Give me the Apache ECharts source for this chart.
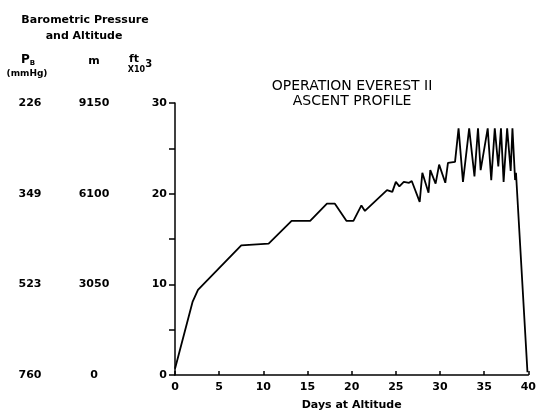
<!DOCTYPE html>
<html>
<head>
<meta charset="utf-8">
<script src="https://cdn.jsdelivr.net/npm/echarts@6/dist/echarts.min.js"></script>
<style>
  html, body { margin: 0; padding: 0; background: #fff; }
  #chart { width: 539px; height: 416px; }
</style>
</head>
<body>
<div id="chart"></div>
<script>
// Ascent profile: days spent at altitude vs. simulated altitude (thousands of feet)
const days = [
  0, 2.0, 2.6, 7.5, 10.6, 13.2, 15.3, 17.2, 18.1, 19.4, 20.2, 21.1, 21.5,
  24.0, 24.6, 25.0, 25.4, 25.9, 26.5, 26.8, 27.0, 27.7, 28.0, 28.7, 28.9,
  29.5, 29.9, 30.6, 30.9, 31.7, 32.1, 32.6, 33.3, 33.9, 34.3, 34.6, 35.4,
  35.8, 36.2, 36.6, 36.9, 37.2, 37.6, 38.0, 38.2, 38.5, 38.6, 39.9
];
const altitudeKft = [
  0.7, 8.1, 9.4, 14.3, 14.5, 17.0, 17.0, 18.9, 18.9, 17.0, 17.0, 18.7, 18.1,
  20.4, 20.2, 21.3, 20.8, 21.3, 21.2, 21.4, 21.2, 19.1, 22.3, 20.1, 22.6,
  21.1, 23.2, 21.2, 23.4, 23.5, 27.2, 21.3, 27.2, 21.9, 27.2, 22.6, 27.2,
  21.5, 27.2, 23.0, 27.2, 21.3, 27.2, 22.5, 27.2, 21.5, 22.3, 0.3
];

// Left-hand scale columns (bottom to top)
const ftTicks = [0, 10, 20, 30];
const meterLabels = ['0', '3050', '6100', '9150'];
const pressureLabels = ['760', '523', '349', '226'];

const FONT = 'DejaVu Sans';
const chart = echarts.init(document.getElementById('chart'));

const colLabel = (labels) => (v) => {
  const i = ftTicks.indexOf(v);
  return i >= 0 ? labels[i] : '';
};

chart.setOption({
  animation: false,
  backgroundColor: '#fff',
  grid: { left: 175, right: 6, top: 103, bottom: 40, containLabel: false },
  xAxis: {
    type: 'value', min: 0, max: 40, interval: 5,
    name: 'Days at Altitude', nameLocation: 'middle', nameGap: 25,
    nameTextStyle: { fontFamily: FONT, fontSize: 11, fontWeight: 'bold', color: '#000' },
    axisLine: { lineStyle: { color: '#000', width: 1.5 } },
    axisTick: { inside: true, length: 4, lineStyle: { color: '#000', width: 1.5 } },
    axisLabel: { fontFamily: FONT, fontSize: 11, fontWeight: 'bold', color: '#000', margin: 7 },
    splitLine: { show: false }
  },
  yAxis: [
    {
      type: 'value', min: 0, max: 30, interval: 5, position: 'left',
      axisLine: { show: true, lineStyle: { color: '#000', width: 1.5 } },
      axisTick: { inside: false, length: 6, lineStyle: { color: '#000', width: 1.5 } },
      axisLabel: {
        fontFamily: FONT, fontSize: 11, fontWeight: 'bold', color: '#000', margin: 8,
        formatter: (v) => (ftTicks.indexOf(v) >= 0 ? String(v) : '')
      },
      splitLine: { show: false }
    },
    {
      type: 'value', min: 0, max: 30, interval: 10, position: 'left',
      axisLine: { show: false }, axisTick: { show: false }, splitLine: { show: false },
      axisLabel: {
        fontFamily: FONT, fontSize: 11, fontWeight: 'bold', color: '#000',
        align: 'center', margin: 81, formatter: colLabel(meterLabels)
      }
    },
    {
      type: 'value', min: 0, max: 30, interval: 10, position: 'left',
      axisLine: { show: false }, axisTick: { show: false }, splitLine: { show: false },
      axisLabel: {
        fontFamily: FONT, fontSize: 11, fontWeight: 'bold', color: '#000',
        align: 'center', margin: 145, formatter: colLabel(pressureLabels)
      }
    }
  ],
  series: [{
    type: 'line',
    yAxisIndex: 0,
    data: days.map((d, i) => [d, altitudeKft[i]]),
    showSymbol: false,
    lineStyle: { color: '#000', width: 1.8 },
    z: 3
  }],
  graphic: [
    {
      type: 'text', x: 85, y: 20,
      style: { text: 'Barometric Pressure', fontFamily: FONT, fontSize: 11, fontWeight: 'bold',
               fill: '#000', align: 'center', verticalAlign: 'middle' }
    },
    {
      type: 'text', x: 84, y: 36,
      style: { text: 'and Altitude', fontFamily: FONT, fontSize: 11, fontWeight: 'bold',
               fill: '#000', align: 'center', verticalAlign: 'middle' }
    },
    {
      type: 'text', x: 28, y: 60,
      style: {
        text: '{p|P}{s|B}', align: 'center', verticalAlign: 'middle',
        rich: {
          p: { fontFamily: FONT, fontSize: 12, fontWeight: 'bold', fill: '#000' },
          s: { fontFamily: FONT, fontSize: 7, fontWeight: 'bold', fill: '#000', padding: [6, 0, 0, 0] }
        }
      }
    },
    {
      type: 'text', x: 27, y: 74,
      style: { text: '(mmHg)', fontFamily: FONT, fontSize: 9, fontWeight: 'bold',
               fill: '#000', align: 'center', verticalAlign: 'middle' }
    },
    {
      type: 'text', x: 94, y: 61,
      style: { text: 'm', fontFamily: FONT, fontSize: 11, fontWeight: 'bold',
               fill: '#000', align: 'center', verticalAlign: 'middle' }
    },
    {
      type: 'text', x: 134, y: 59,
      style: { text: 'ft', fontFamily: FONT, fontSize: 11, fontWeight: 'bold',
               fill: '#000', align: 'center', verticalAlign: 'middle' }
    },
    {
      type: 'text', x: 140, y: 68,
      style: {
        text: '{b|X10}{e|3}', align: 'center', verticalAlign: 'middle',
        rich: {
          b: { fontFamily: FONT, fontSize: 8, fontWeight: 'bold', fill: '#000', padding: [4, 0, 0, 0] },
          e: { fontFamily: FONT, fontSize: 10, fontWeight: 'bold', fill: '#000', padding: [0, 0, 8, 0] }
        }
      }
    },
    {
      type: 'text', x: 352, y: 86,
      style: { text: 'OPERATION EVEREST II', fontFamily: FONT, fontSize: 14,
               fill: '#000', align: 'center', verticalAlign: 'middle' }
    },
    {
      type: 'text', x: 352, y: 101,
      style: { text: 'ASCENT PROFILE', fontFamily: FONT, fontSize: 14,
               fill: '#000', align: 'center', verticalAlign: 'middle' }
    }
  ]
});
</script>
</body>
</html>
